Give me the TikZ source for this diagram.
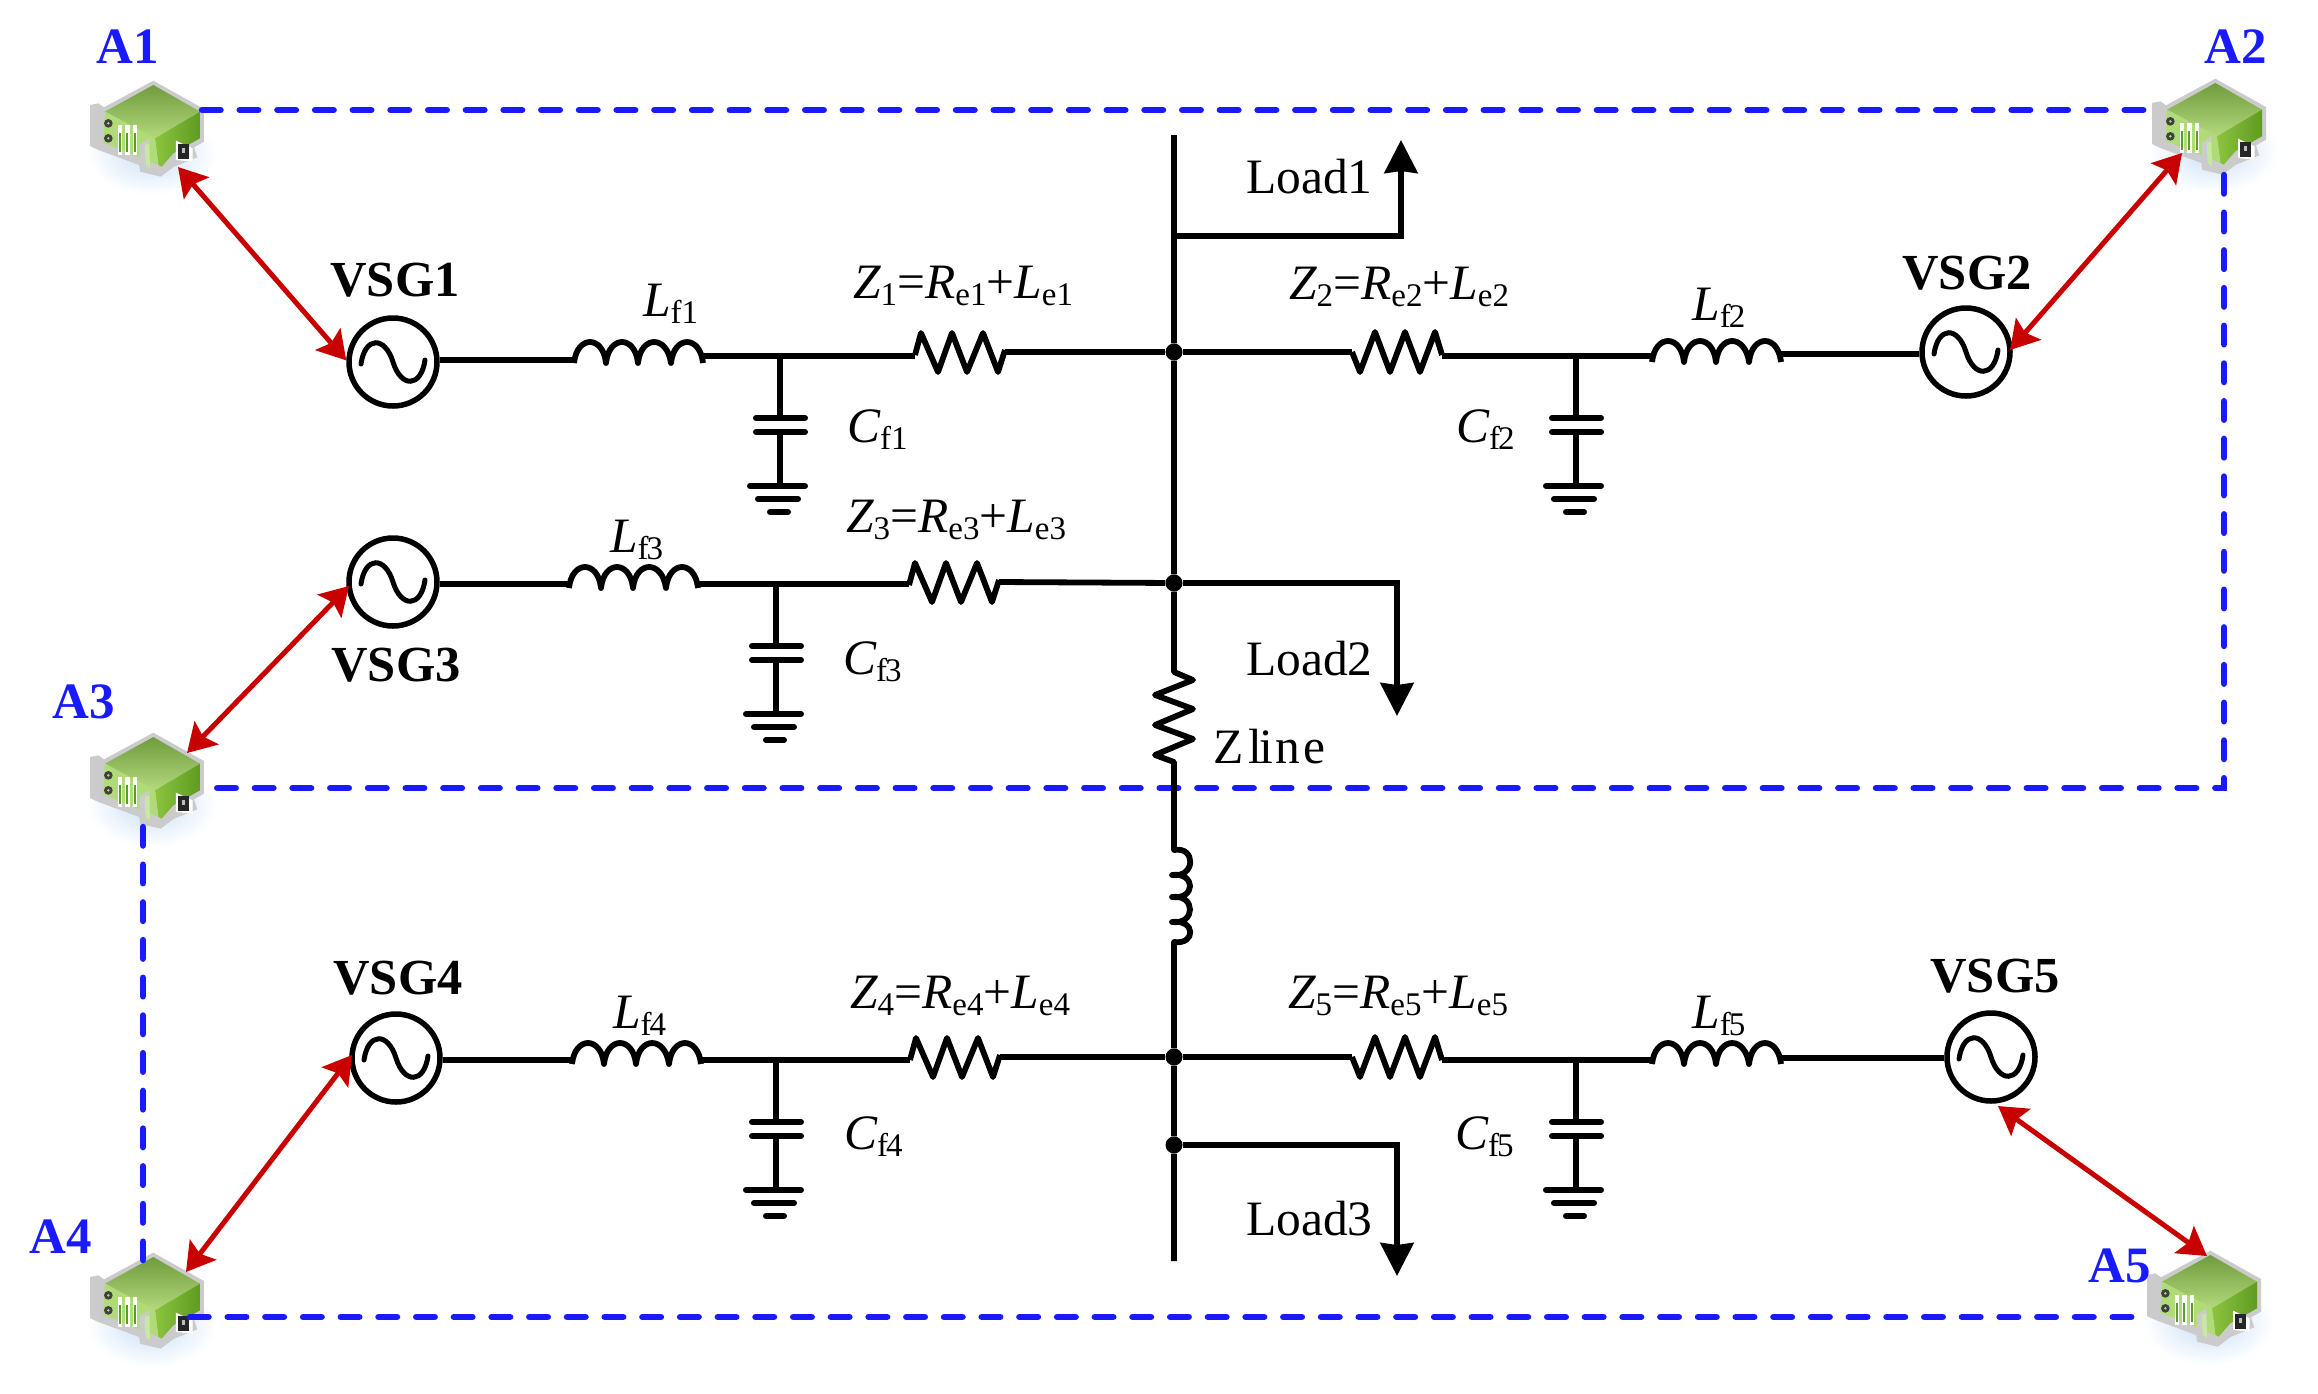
\documentclass[tikz,border=0pt]{standalone}
\usepackage{fontspec}
\setmainfont{Liberation Serif}
\usetikzlibrary{arrows.meta,calc}
\definecolor{dashblue}{HTML}{1A1AFF}
\definecolor{linkred}{HTML}{C80000}
\definecolor{iconGrey}{HTML}{CBCBCB}
\definecolor{topA}{HTML}{6F9C3D}
\definecolor{topB}{HTML}{B3D97C}
\definecolor{sideA}{HTML}{8CC43F}
\definecolor{sideB}{HTML}{5F9B22}
\definecolor{panelA}{HTML}{B0DC78}
\definecolor{panelB}{HTML}{C6E8A0}
\definecolor{barG}{HTML}{5E9A2C}
\definecolor{glowB}{HTML}{C9DFF6}
\newcommand{\bigf}{\fontsize{49.5}{49.5}\selectfont}
\newcommand{\lbl}[2]{{\itshape #1}\raisebox{-7pt}{\fontsize{33}{33}\selectfont #2}}
\newcommand{\myInd}[2]{%
  \draw[wire] (#1,#2+6)
   .. controls (#1+3,#2-22) and (#1+29,#2-22) .. (#1+32,#2+6)
   .. controls (#1+35,#2-22) and (#1+61,#2-22) .. (#1+64,#2+6)
   .. controls (#1+67,#2-22) and (#1+93,#2-22) .. (#1+97,#2+6)
   .. controls (#1+100,#2-22) and (#1+126,#2-22) .. (#1+129,#2+6);}
\newcommand{\myResU}[2]{%
  \draw[wire] (#1,#2+3) -- (#1+6,#2-19) -- (#1+23,#2+20) -- (#1+37,#2-19) -- (#1+52,#2+20) -- (#1+68,#2-19) -- (#1+83,#2+20) -- (#1+90,#2-2);}
\newcommand{\myResD}[2]{%
  \draw[wire] (#1,#2) -- (#1+8,#2+20) -- (#1+23,#2-20) -- (#1+38,#2+20) -- (#1+53,#2-20) -- (#1+68,#2+20) -- (#1+83,#2-20) -- (#1+90,#2+3);}
\newcommand{\myCap}[2]{%
  \draw[wire] (#1,#2) -- (#1,#2+62) (#1,#2+76) -- (#1,#2+130);
  \draw[plate] (#1-24,#2+62) -- (#1+25,#2+62);
  \draw[plate] (#1-24,#2+76) -- (#1+25,#2+76);
  \draw[plate] (#1-30,#2+130) -- (#1+25,#2+130);
  \draw[plate] (#1-22,#2+143) -- (#1+18,#2+143);
  \draw[plate] (#1-10,#2+156) -- (#1+8,#2+156);}
\tikzset{
  wire/.style={line width=5.8pt,black,line join=round},
  plate/.style={line width=6pt,black,line cap=round},
  src/.style={circle,draw=black,line width=5.5pt,fill=white,minimum size=88pt,inner sep=0pt},
  dot/.style={circle,fill=black,minimum size=17pt,inner sep=0pt},
  sine/.style={line width=5pt,black,line cap=round},
  comm/.style={line width=6.5pt,dashblue,line cap=round,dash pattern=on 18.5pt off 19.2pt},
  link/.style={line width=5pt,linkred,{Stealth[length=28pt,width=33pt,inset=5pt]}-{Stealth[length=28pt,width=33pt,inset=5pt]}},
  loadline/.style={line width=5.8pt,black,line join=miter,-{Stealth[length=33pt,width=33pt,inset=2pt]}},
  agentlabel/.style={anchor=base,inner sep=0pt,text=dashblue,font=\fontsize{51}{51}\selectfont\bfseries},
  vsglabel/.style={anchor=base,inner sep=0pt,font=\fontsize{50.5}{50.5}\selectfont\bfseries},
  txt/.style={anchor=base west,inner sep=0pt,font=\bigf},
  agent/.pic={
    \shade[inner color=glowB,outer color=white,draw=none] (185,250) ellipse (195 and 125);
    \fill[iconGrey,line join=round] (190,32) -- (342,117) -- (342,215) -- (312,232) -- (322,262) -- (252,290) -- (212,320) -- (150,305) -- (148,285) -- (25,240) -- (0,228) -- (0,105) -- (25,100) -- (42,112) -- cycle;
    \shade[top color=topA,bottom color=topB] (190,45) -- (330,125) -- (195,205) -- (45,125) -- cycle;
    \shade[left color=sideA,right color=sideB] (195,205) -- (330,125) -- (330,205) -- (250,250) -- (215,290) -- (205,285) -- cycle;
    \fill[panelA] (45,125) -- (195,205) -- (205,285) -- (180,275) -- (175,225) -- (150,222) -- (150,262) -- (40,218) -- cycle;
    \fill[iconGrey] (150,225) -- (178,205) -- (182,308) -- (150,295) -- cycle;
    \fill[panelB] (164,225) -- (178,220) -- (180,295) -- (167,285) -- cycle;
    \foreach \bx in {90,112,135}{
      \fill[white] (\bx-7,165) rectangle (\bx+7,255);
      \fill[barG] (\bx-3,190) rectangle (\bx+3,245);
    }
    \fill[black!75] (55,160) circle (13) (55,205) circle (13);
    \fill[panelA] (55,160) circle (4) (55,205) circle (4);
    \fill[white] (258,212) -- (308,235) -- (308,275) -- (258,270) -- cycle;
    \fill[black!85] (265,222) rectangle (296,267);
    \fill[black!25] (276,233) rectangle (286,250);
  }
}
\begin{document}
\begin{tikzpicture}[x=1pt,y=-1pt]
\useasboundingbox (0,0) rectangle (2318,1393);
\fill[white] (0,0) rectangle (2318,1393);

% agents
\pic at (90,70) [scale=0.3333] {agent};
\pic at (2152,68) [scale=0.3333] {agent};
\pic at (90,722) [scale=0.3333] {agent};
\pic at (90,1242) [scale=0.3333] {agent};
\pic at (2147,1240) [scale=0.3333] {agent};

% anchor points of the agents
\coordinate (A1E) at (202,110);
\coordinate (A2W) at (2152,110);
\coordinate (A2S) at (2224,175);
\coordinate (Rc) at (2224,788);
\coordinate (A3E) at (203,788);
\coordinate (A3S) at (143,827);
\coordinate (A4N) at (143,1260);
\coordinate (A4E) at (190,1317);
\coordinate (A5W) at (2140,1317);
\coordinate (A1L) at (178,167);
\coordinate (A2L) at (2182,153);
\coordinate (A3L) at (187,753);
\coordinate (A4L) at (186,1272);
\coordinate (A5L) at (2207,1256);

% communication network
\draw[comm] (A1E) -- (A2W);
\draw[comm] (A2S) -- (Rc) -- (A3E);
\draw[comm] (A3S) -- (A4N);
\draw[comm] (A4E) -- (A5W);

% sources
\node[src] (S1) at (393,362) {};
\node[src] (S2) at (1966,352) {};
\node[src] (S3) at (393,582) {};
\node[src] (S4) at (396,1058) {};
\node[src] (S5) at (1991,1057) {};
\foreach \s in {S1,S2,S3,S4,S5}{
  \draw[sine,shift={(\s.center)}] (-32,2) .. controls (-28,-26) and (-8,-26) .. (0,0) .. controls (8,26) and (28,26) .. (32,-2);
}

% bus
\coordinate (Btop) at (1174,135);
\coordinate (Bbot) at (1174,1261);
\coordinate (Ra) at (1174,672);
\coordinate (Rb) at (1174,762);
\coordinate (Lza) at (1174,850);
\coordinate (Lzb) at (1174,942);
\node[dot] (J1) at (1174,352) {};
\node[dot] (J2) at (1174,583) {};
\node[dot] (J3) at (1174,1057) {};
\node[dot] (J4) at (1174,1145) {};
\draw[wire] (Btop) -- (J1) -- (J2) -- (Ra)
  -- (1193,680) -- (1155,695) -- (1193,709) -- (1155,725) -- (1193,739) -- (1155,755) -- (Rb) -- (Lza)
  .. controls (1196,846) and (1196,878) .. (1172,875)
  .. controls (1196,872) and (1196,900) .. (1172,897)
  .. controls (1196,894) and (1196,925) .. (1172,922)
  .. controls (1196,919) and (1196,945) .. (Lzb) -- (J3) -- (J4) -- (Bbot);

% loads
\coordinate (T1) at (1174,236);
\coordinate (T1a) at (1401,236);
\coordinate (T1b) at (1401,140);
\coordinate (T2a) at (1397,583);
\coordinate (T2b) at (1397,716);
\coordinate (T4a) at (1397,1145);
\coordinate (T4b) at (1397,1276);
\draw[loadline] (T1) -- (T1a) -- (T1b);
\draw[loadline] (J2) -- (T2a) -- (T2b);
\draw[loadline] (J4) -- (T4a) -- (T4b);

% branch 1
\draw[wire] ([yshift=2pt]S1.east) -- (574,360);
\myInd{574}{357}
\draw[wire] (703,356) -- (915,356);
\myResU{915}{352}
\draw[wire] (1005,352) -- (J1);
\myCap{780}{356}
% branch 2
\draw[wire] (J1) -- (1352,352);
\myResD{1352}{352}
\draw[wire] (1442,356) -- (1652,356);
\myInd{1652}{356}
\draw[wire] (1781,354) -- ([yshift=-2pt]S2.west);
\myCap{1576}{356}
% branch 3
\draw[wire] ([yshift=-2pt]S3.east) -- (569,584);
\myInd{569}{582}
\draw[wire] (698,584) -- (909,584);
\myResU{909}{582}
\draw[wire] (999,582) -- (J2);
\myCap{776}{584}
% branch 4
\draw[wire] ([yshift=-2pt]S4.east) -- (572,1060);
\myInd{572}{1058}
\draw[wire] (701,1060) -- (910,1060);
\myResU{910}{1057}
\draw[wire] (1000,1057) -- (J3);
\myCap{776}{1060}
% branch 5
\draw[wire] (J3) -- (1352,1057);
\myResD{1352}{1057}
\draw[wire] (1442,1060) -- (1652,1060);
\myInd{1652}{1058}
\draw[wire] (1781,1058) -- ([yshift=-1pt]S5.west);
\myCap{1576}{1060}

% communication links
\draw[link] (A1L) -- (S1.178);
\draw[link] (A2L) -- (2010,350);
\draw[link] (A3L) -- (349,586);
\draw[link] (A4L) -- (352,1055);
\draw[link] (A5L) -- (1998,1106);

% labels
\node[agentlabel] (tA1) at (128,63) {A1};
\node[agentlabel] (tA2) at (2236,63) {A2};
\node[agentlabel] (tA3) at (84,718) {A3};
\node[agentlabel] (tA4) at (61,1253) {A4};
\node[agentlabel] (tA5) at (2120,1282) {A5};
\node[vsglabel] (tS1) at (395,296) {VSG1};
\node[vsglabel] (tS2) at (1967,289) {VSG2};
\node[vsglabel] (tS3) at (396,681) {VSG3};
\node[vsglabel] (tS4) at (398,994) {VSG4};
\node[vsglabel] (tS5) at (1995,992) {VSG5};

\node[txt] (z1) at (853,298) {\lbl{Z}{1}=\lbl{R}{e1}+\lbl{L}{e1}};
\node[txt] (z2) at (1289,299) {\lbl{Z}{2}=\lbl{R}{e2}+\lbl{L}{e2}};
\node[txt] (z3) at (846,532) {\lbl{Z}{3}=\lbl{R}{e3}+\lbl{L}{e3}};
\node[txt] (z4) at (850,1008) {\lbl{Z}{4}=\lbl{R}{e4}+\lbl{L}{e4}};
\node[txt] (z5) at (1288,1008) {\lbl{Z}{5}=\lbl{R}{e5}+\lbl{L}{e5}};
\node[txt] (l1) at (643,316) {\lbl{L}{f1}};
\node[txt] (l2) at (1692,320) {\lbl{L}{f\kern-2pt 2}};
\node[txt] (l3) at (610,552) {\lbl{L}{f\kern-2pt 3}};
\node[txt] (l4) at (613,1028) {\lbl{L}{f\kern-2pt 4}};
\node[txt] (l5) at (1692,1028) {\lbl{L}{f\kern-2pt 5}};
\node[txt] (c1) at (847,442) {\lbl{C}{f1}};
\node[txt] (c2) at (1456,442) {\lbl{C}{f\kern-2pt 2}};
\node[txt] (c3) at (843,674) {\lbl{C}{f\kern-2pt 3}};
\node[txt] (c4) at (844,1149) {\lbl{C}{f\kern-2pt 4}};
\node[txt] (c5) at (1455,1149) {\lbl{C}{f\kern-2pt 5}};
\node[txt] (load1) at (1246,193) {Load1};
\node[txt] (load2) at (1246,675) {Load2};
\node[txt] (load3) at (1246,1235) {Load3};
\node[txt] (zl) at (1213,763) {Z\kern5pt l\kern-3pt i\kern3pt n\kern3pt e};
\end{tikzpicture}
\end{document}
